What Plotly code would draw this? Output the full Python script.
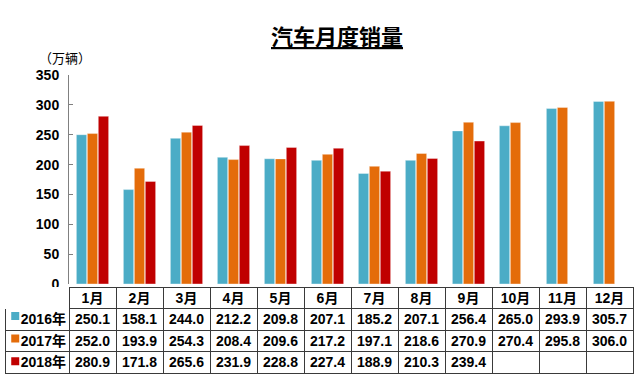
import plotly.graph_objects as go

months = ["1月", "2月", "3月", "4月", "5月", "6月", "7月", "8月", "9月", "10月", "11月", "12月"]
years = ["2016年", "2017年", "2018年"]
sales_2016 = [250.1, 158.1, 244.0, 212.2, 209.8, 207.1, 185.2, 207.1, 256.4, 265.0, 293.9, 305.7]
sales_2017 = [252.0, 193.9, 254.3, 208.4, 209.6, 217.2, 197.1, 218.6, 270.9, 270.4, 295.8, 306.0]
sales_2018 = [280.9, 171.8, 265.6, 231.9, 228.8, 227.4, 188.9, 210.3, 239.4, None, None, None]
colors = ["#4BACC6", "#E46C0A", "#C00000"]
series = [sales_2016, sales_2017, sales_2018]

W, H = 640, 383
FONT = "Arial, 'Liberation Sans', 'Noto Sans CJK SC', sans-serif"
CJK = "'Noto Sans CJK SC', sans-serif"

fig = go.Figure()
for name, vals, col in zip(years, series, colors):
    fig.add_trace(go.Bar(
        x=months, y=vals, name=name,
        marker=dict(color=col, line=dict(color="rgba(255,255,255,0.6)", width=0.6)),
        xaxis="x", yaxis="y",
    ))

# legend keys in the table's first column
fig.add_trace(go.Scatter(
    x=[0, 0, 0], y=years, mode="markers",
    marker=dict(symbol="square", size=8, color=colors),
    xaxis="x2", yaxis="y2", hoverinfo="skip",
))

# data table
row_labels = ["\u00a0\u00a0" + y for y in years]
cols = [row_labels]
for i in range(len(months)):
    col = []
    for vals in series:
        v = vals[i]
        col.append("" if v is None else f"{v:.1f}")
    cols.append(col)

lc = "#3a3a3a"
col_w = [64] + [47] * 12
tfont = dict(family=FONT, size=14, color="black", weight="bold")

# grid (borders + fills)
fig.add_trace(go.Table(
    domain=dict(x=[5 / W, 633 / W], y=[0, 1 - 291.5 / H]),
    columnwidth=col_w,
    header=dict(
        values=[""] * 13, height=21.5,
        fill=dict(color="white"),
        line=dict(color=lc, width=[0] + [1] * 12),
        font=tfont,
    ),
    cells=dict(
        values=[[""] * 3 for _ in range(13)], height=21.5,
        fill=dict(color=["rgba(0,0,0,0)"] + ["white"] * 12),
        line=dict(color=lc, width=1),
        font=tfont,
    ),
))

# texts (nudged up to sit centred in the rows)
fig.add_trace(go.Table(
    domain=dict(x=[5 / W, 633 / W], y=[0, 1 - 288.5 / H]),
    columnwidth=col_w,
    header=dict(
        values=[""] + months, height=21.5, align="center",
        fill=dict(color="rgba(0,0,0,0)"),
        line=dict(color="rgba(0,0,0,0)", width=0),
        font=tfont,
    ),
    cells=dict(
        values=cols, height=21.5,
        align=["left"] + ["center"] * 12,
        fill=dict(color="rgba(0,0,0,0)"),
        line=dict(color="rgba(0,0,0,0)", width=0),
        font=tfont,
    ),
))

fig.update_layout(
    width=W, height=H,
    margin=dict(l=0, r=0, t=0, b=0),
    paper_bgcolor="white", plot_bgcolor="white",
    showlegend=False,
    barmode="group", bargap=0.3, bargroupgap=0.06,
    font=dict(family=FONT, size=14, color="black"),
    xaxis=dict(domain=[69 / W, 633 / W], showticklabels=False, showline=False,
               showgrid=False, ticks="", zeroline=False, fixedrange=True),
    yaxis=dict(domain=[1 - 288 / H, 1 - 70 / H], range=[0, 350], dtick=50,
               showline=True, linecolor="#808080", linewidth=1,
               ticks="inside", ticklen=4, tickcolor="#808080",
               showgrid=False, zeroline=False, fixedrange=True,
               tickfont=dict(family=FONT, size=14, color="black", weight="bold"),
               ticklabelstandoff=6),
    xaxis2=dict(domain=[5 / W, 69 / W], range=[-0.16, 0.84], visible=False, fixedrange=True),
    yaxis2=dict(domain=[1 - 377 / H, 1 - 313 / H], type="category",
                categoryorder="array", categoryarray=years,
                autorange="reversed", visible=False, fixedrange=True),
    annotations=[
        dict(text="<span style='text-decoration:underline'><b>汽车月度销量</b></span>",
             xref="paper", yref="paper", x=336.5 / W, y=1 - 28 / H,
             xanchor="center", yanchor="middle", showarrow=False,
             font=dict(family=CJK, size=22, color="black")),
        dict(text="（万辆）", xref="paper", yref="paper", x=65 / W, y=1 - 52 / H,
             xanchor="center", yanchor="middle", showarrow=False,
             font=dict(family=CJK, size=13, color="black")),
    ],
)

fig.write_html("out.html", config={"displayModeBar": False},
               post_script="document.body.style.margin='0';")
